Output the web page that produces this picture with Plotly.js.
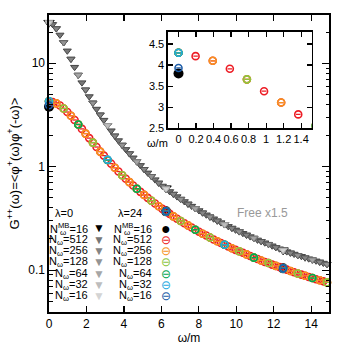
<!DOCTYPE html>
<html>
<head>
<meta charset="utf-8">
<script src="https://cdn.plot.ly/plotly-3.0.1.min.js"></script>
<style>
  html, body { margin: 0; padding: 0; background: #fff; }
  #grafico { width: 350px; height: 350px; }
</style>
</head>
<body>
<div id="grafico"></div>
<script>
// frecuencias (omega/m) de cada malla
const omega512 = [0, 0.195, 0.391, 0.586, 0.781, 0.977, 1.172, 1.367, 1.563, 1.758,
    1.953, 2.148, 2.344, 2.539, 2.734, 2.930, 3.125, 3.320, 3.516, 3.711,
    3.906, 4.102, 4.297, 4.492, 4.688, 4.883, 5.078, 5.273, 5.469, 5.664,
    5.859, 6.055, 6.25, 6.445, 6.641, 6.836, 7.031, 7.227, 7.422, 7.617,
    7.813, 8.008, 8.203, 8.398, 8.594, 8.789, 8.984, 9.180, 9.375, 9.570,
    9.766, 9.961, 10.156, 10.352, 10.547, 10.742, 10.938, 11.133, 11.328, 11.523,
    11.719, 11.914, 12.109, 12.305, 12.5, 12.695, 12.891, 13.086, 13.281, 13.477,
    13.672, 13.867, 14.063, 14.258, 14.453, 14.648, 14.844];
const omega256 = [0, 0.391, 0.781, 1.172, 1.563, 1.953, 2.344, 2.734, 3.125, 3.516,
    3.906, 4.297, 4.688, 5.078, 5.469, 5.859, 6.25, 6.641, 7.031, 7.422,
    7.813, 8.203, 8.594, 8.984, 9.375, 9.766, 10.156, 10.547, 10.938, 11.328,
    11.719, 12.109, 12.5, 12.891, 13.281, 13.672, 14.063, 14.453, 14.844];
const omega128 = [0, 0.781, 1.563, 2.344, 3.125, 3.906, 4.688, 5.469, 6.25, 7.031,
    7.813, 8.594, 9.375, 10.156, 10.938, 11.719, 12.5, 13.281, 14.063, 14.844];
const omega64 = [0, 1.563, 3.125, 4.688, 6.25, 7.813, 9.375, 10.938, 12.5, 14.063];
const omega32 = [0, 3.125, 6.25, 9.375, 12.5];
const omega16 = [0, 6.25, 12.5];
const omegaMB = [0, 6.25, 12.5];

// lambda = 24
const g512 = [4.29, 4.21, 4.10, 3.91, 3.66, 3.38, 3.11, 2.83, 2.56, 2.32,
    2.09, 1.89, 1.71, 1.55, 1.40, 1.28, 1.16, 1.07, 0.977, 0.898,
    0.828, 0.765, 0.709, 0.658, 0.612, 0.571, 0.534, 0.500, 0.469, 0.441,
    0.415, 0.391, 0.370, 0.350, 0.331, 0.314, 0.299, 0.284, 0.271, 0.258,
    0.246, 0.235, 0.225, 0.216, 0.207, 0.198, 0.190, 0.183, 0.176, 0.169,
    0.163, 0.157, 0.152, 0.147, 0.142, 0.137, 0.132, 0.128, 0.124, 0.120,
    0.117, 0.113, 0.110, 0.107, 0.104, 0.101, 0.0980, 0.0954, 0.0929, 0.0904,
    0.0881, 0.0859, 0.0838, 0.0817, 0.0798, 0.0779, 0.0761];
const g256 = [4.29, 4.10, 3.66, 3.11, 2.56, 2.09, 1.71, 1.40, 1.16, 0.977,
    0.828, 0.709, 0.612, 0.534, 0.469, 0.415, 0.370, 0.331, 0.299, 0.271,
    0.246, 0.225, 0.207, 0.190, 0.176, 0.163, 0.152, 0.142, 0.132, 0.124,
    0.117, 0.110, 0.104, 0.0980, 0.0929, 0.0881, 0.0838, 0.0798, 0.0761];
const g128 = [4.29, 3.66, 2.56, 1.71, 1.16, 0.828, 0.612, 0.469, 0.370, 0.299,
    0.246, 0.207, 0.176, 0.152, 0.132, 0.117, 0.104, 0.0929, 0.0838, 0.0761];
const g64 = [4.29, 2.56, 1.16, 0.612, 0.370, 0.246, 0.176, 0.132, 0.104, 0.0838];
const g32 = [4.29, 1.17, 0.370, 0.176, 0.104];
const g16 = [3.93, 0.370, 0.104];
const gMB = [3.80, 0.370, 0.104];

// lambda = 0 (libre x1.5)
const f512 = [24.7, 23.8, 21.7, 18.8, 15.9, 13.2, 11.0, 9.17, 7.69, 6.50,
    5.55, 4.77, 4.14, 3.61, 3.18, 2.82, 2.51, 2.23, 1.99, 1.79,
    1.62, 1.47, 1.34, 1.22, 1.12, 1.03, 0.945, 0.872, 0.808, 0.750,
    0.697, 0.651, 0.612, 0.576, 0.544, 0.514, 0.486, 0.461, 0.437, 0.416,
    0.395, 0.377, 0.359, 0.343, 0.328, 0.314, 0.300, 0.288, 0.276, 0.265,
    0.255, 0.245, 0.236, 0.227, 0.219, 0.211, 0.204, 0.196, 0.190, 0.184,
    0.178, 0.172, 0.166, 0.161, 0.156, 0.151, 0.147, 0.143, 0.139, 0.136,
    0.132, 0.129, 0.126, 0.123, 0.120, 0.117, 0.114];
const f256 = [24.7, 21.7, 15.9, 11.0, 7.69, 5.55, 4.14, 3.18, 2.51, 1.99,
    1.62, 1.34, 1.12, 0.945, 0.808, 0.697, 0.612, 0.544, 0.486, 0.437,
    0.395, 0.359, 0.328, 0.300, 0.276, 0.255, 0.236, 0.219, 0.204, 0.190,
    0.178, 0.166, 0.156, 0.147, 0.139, 0.132, 0.126, 0.120, 0.114];
const f128 = [24.7, 15.9, 7.69, 4.14, 2.51, 1.62, 1.12, 0.808, 0.612, 0.486,
    0.395, 0.328, 0.276, 0.236, 0.204, 0.178, 0.156, 0.139, 0.126, 0.114];
const f64 = [24.7, 7.69, 2.51, 1.12, 0.612, 0.395, 0.276, 0.204, 0.156, 0.126];
const f32 = [24.7, 2.51, 0.612, 0.276, 0.156];
const f16 = [24.7, 0.612, 0.156];
const fMB = [24.7, 0.62, 0.156];

const etiquetas = ['N<sup>MB</sup>=16', 'N<sub>ω</sub>=512', 'N<sub>ω</sub>=256',
    'N<sub>ω</sub>=128', 'N<sub>ω</sub>=64', 'N<sub>ω</sub>=32', 'N<sub>ω</sub>=16'];

const coloresCirculo = ['#000000', '#ed1c24', '#f7941d', '#8dc63f', '#00a651', '#27aae1', '#1c5ca8'];
const rellenoTriangulo = ['#000000', '#777777', '#858585', '#949494', '#a6a6a6', '#bdbdbd', '#d4d4d4'];
const bordeTriangulo = ['#000000', '#444444', '#555555', '#666666', '#808080', '#999999', '#b0b0b0'];

const fuente = 'Liberation Sans, Arial, sans-serif';

function triangulos(x, y, i) {
    return {
        x: x, y: y, type: 'scatter', mode: 'markers', cliponaxis: false,
        marker: { symbol: 'triangle-down', size: i === 0 ? 9 : 7, color: rellenoTriangulo[i],
            line: { width: 1, color: bordeTriangulo[i] } },
        showlegend: false, hoverinfo: 'skip'
    };
}

function circulos(x, y, i, inset) {
    const color = coloresCirculo[i];
    const traza = {
        x: x, y: y, type: 'scatter', mode: 'markers',
        xaxis: inset ? 'x2' : 'x', yaxis: inset ? 'y2' : 'y',
        cliponaxis: !inset ? false : true,
        showlegend: false, hoverinfo: 'skip'
    };
    if (i === 0) {
        traza.marker = { symbol: 'circle', size: 10, color: color };
    } else {
        traza.marker = { symbol: 'circle-open', size: 7, color: color, line: { width: 1.6, color: color } };
        traza.error_x = { type: 'constant', value: inset ? 0.026 : 0.12, width: 0, thickness: 1.3, color: color };
    }
    return traza;
}

const libres = [[omegaMB, fMB], [omega512, f512], [omega256, f256], [omega128, f128],
    [omega64, f64], [omega32, f32], [omega16, f16]];
const interactuantes = [[omegaMB, gMB], [omega512, g512], [omega256, g256], [omega128, g128],
    [omega64, g64], [omega32, g32], [omega16, g16]];

const data = [];
libres.forEach((s, i) => data.push(triangulos(s[0], s[1], i)));
interactuantes.forEach((s, i) => data.push(circulos(s[0], s[1], i, false)));
interactuantes.forEach((s, i) => data.push(circulos(s[0], s[1], i, true)));

// leyenda hecha a mano: texto a la izquierda del simbolo, dos columnas
const filasY = [0.2818, 0.2441, 0.2054, 0.1673, 0.129, 0.0909, 0.0529];
const anotaciones = [];
filasY.forEach((yy, i) => {
    anotaciones.push({ xref: 'paper', yref: 'paper', x: 0.1464, y: yy, xanchor: 'right', yanchor: 'middle',
        text: etiquetas[i], showarrow: false, font: { size: 11 } });
    anotaciones.push({ xref: 'paper', yref: 'paper', x: 0.1768, y: yy, xanchor: 'center', yanchor: 'middle',
        text: '▼', showarrow: false, font: { size: 12, color: i === 0 ? '#000' : rellenoTriangulo[i] } });
    anotaciones.push({ xref: 'paper', yref: 'paper', x: 0.375, y: yy, xanchor: 'right', yanchor: 'middle',
        text: etiquetas[i], showarrow: false, font: { size: 11 } });
    anotaciones.push({ xref: 'paper', yref: 'paper', x: 0.418, y: yy, xanchor: 'center', yanchor: 'middle',
        text: i === 0 ? '●' : '⊖', showarrow: false, font: { size: i === 0 ? 16 : 12, color: coloresCirculo[i] } });
});
// subindice omega debajo de "MB"
anotaciones.push({ xref: 'paper', yref: 'paper', x: 0.049, y: 0.268, xanchor: 'center', yanchor: 'middle',
    text: 'ω', showarrow: false, font: { size: 8 } });
anotaciones.push({ xref: 'paper', yref: 'paper', x: 0.2775, y: 0.268, xanchor: 'center', yanchor: 'middle',
    text: 'ω', showarrow: false, font: { size: 8 } });
anotaciones.push({ xref: 'paper', yref: 'paper', x: 0.052, y: 0.3323, xanchor: 'center', yanchor: 'middle',
    text: 'λ=0', showarrow: false, font: { size: 11 } });
anotaciones.push({ xref: 'paper', yref: 'paper', x: 0.289, y: 0.3323, xanchor: 'center', yanchor: 'middle',
    text: 'λ=24', showarrow: false, font: { size: 11 } });
anotaciones.push({ xref: 'paper', yref: 'paper', x: 0.7625, y: 0.3333, xanchor: 'center', yanchor: 'middle',
    text: 'Free x1.5', showarrow: false, font: { size: 12, color: '#999999' } });
anotaciones.push({ xref: 'paper', yref: 'paper', x: 0.3875, y: 0.569, xanchor: 'center', yanchor: 'middle',
    text: 'ω/m', showarrow: false, font: { size: 11 } });

const ejeBase = {
    ticks: 'inside', mirror: 'allticks', showline: true, linecolor: '#000', linewidth: 1.6,
    tickcolor: '#000', tickwidth: 1.2, showgrid: false, zeroline: false, tickmode: 'array'
};

const layout = {
    width: 350, height: 350,
    margin: { l: 49, r: 21, t: 15, b: 38 },
    paper_bgcolor: '#fff', plot_bgcolor: '#fff',
    font: { family: fuente, size: 12, color: '#000' },
    showlegend: false,
    xaxis: Object.assign({}, ejeBase, {
        range: [0, 14.95], tickvals: [0, 2, 4, 6, 8, 10, 12, 14], ticklen: 6,
        tickfont: { size: 12 }, title: { text: 'ω/m', font: { size: 12 }, standoff: 0 }
    }),
    yaxis: Object.assign({}, ejeBase, {
        type: 'log', range: [-1.405, 1.467], tickvals: [0.1, 1, 10], ticktext: ['0.1', '1', '10'],
        ticklen: 7, tickfont: { size: 12 },
        minor: { ticks: 'inside', ticklen: 3.5, tickcolor: '#000', tickwidth: 1,
            tickvals: [0.05, 0.06, 0.07, 0.08, 0.09, 0.2, 0.3, 0.4, 0.5, 0.6, 0.7, 0.8, 0.9,
                2, 3, 4, 5, 6, 7, 8, 9, 20] },
        title: { text: 'G<sup>++</sup>(ω)=&lt;φ<sup>+</sup>(ω)φ<sup>+</sup>(-ω)&gt;', font: { size: 13 }, standoff: 6 }
    }),
    xaxis2: Object.assign({}, ejeBase, {
        domain: [0.425, 0.938], anchor: 'y2', range: [-0.12, 1.52],
        tickvals: [0, 0.2, 0.4, 0.6, 0.8, 1, 1.2, 1.4], ticklen: 5, tickfont: { size: 11 }
    }),
    yaxis2: Object.assign({}, ejeBase, {
        domain: [0.6185, 0.9438], anchor: 'x2', range: [2.5, 4.79],
        tickvals: [2.5, 3, 3.5, 4, 4.5], ticktext: ['2.5', '3', '3.5', '4', '4.5'],
        ticklen: 5, tickfont: { size: 11 }
    }),
    annotations: anotaciones
};

Plotly.newPlot('grafico', data, layout, { displayModeBar: false, staticPlot: true });
</script>
</body>
</html>
